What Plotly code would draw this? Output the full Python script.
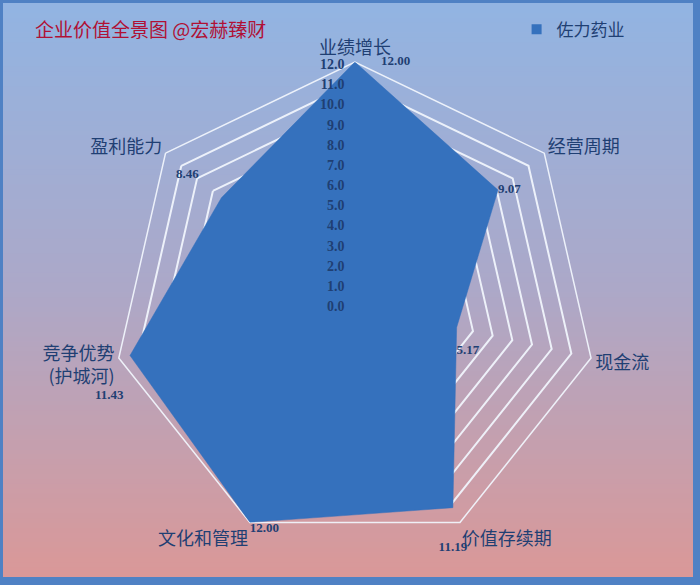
import plotly.graph_objects as go

# ---- data ----
categories = ["业绩增长", "经营周期", "现金流", "价值存续期", "文化和管理", "竞争优势<br>(护城河)", "盈利能力"]
values = [12.00, 9.07, 5.17, 11.19, 12.00, 11.43, 8.46]
series_name = "佐力药业"
title_text = "企业价值全景图 @宏赫臻财"
radial_ticks = [float(i) for i in range(0, 13)]

# label placement styles (per point)
label_positions = ["middle right", "middle right", "bottom right", "bottom center",
                   "bottom right", "bottom left", "top left"]
NB = "\u00a0"
label_pre = [NB * 8, "", NB + "<br>", NB + "<br>" + NB + "<br>", "", NB + "<br>" + NB + "<br>", ""]
label_post = ["", "", "", "", "", NB * 2, NB * 7 + "<br>" + NB]

W, H = 700, 585
DOMAIN_X = [0.161, 0.853]
DOMAIN_Y = [0.066, 0.894]
DARK_BLUE = "#1f3f73"
FILL = "#3571bd"

fig = go.Figure()

# main filled radar
fig.add_trace(go.Scatterpolar(
    r=values + values[:1],
    theta=categories + categories[:1],
    mode="lines+text",
    fill="toself",
    fillcolor=FILL,
    line=dict(color=FILL, width=0.5),
    text=[pre + f"{v:.2f}" + post for pre, v, post in zip(label_pre, values, label_post)] + [""],
    textposition=label_positions + ["middle center"],
    textfont=dict(family="Liberation Serif", size=13, color=DARK_BLUE, weight="bold"),
    name=series_name,
    subplot="polar",
    showlegend=False,
    hoverinfo="skip",
))

# legend entry (square marker)
fig.add_trace(go.Scatterpolar(
    r=[None], theta=[None], mode="markers",
    marker=dict(symbol="square", size=10, color=FILL),
    name=series_name, subplot="polar", showlegend=True, hoverinfo="skip",
))

# invisible trace on overlay polar so radial tick labels sit above the fill
fig.add_trace(go.Scatterpolar(
    r=values, theta=categories, mode="markers",
    marker=dict(opacity=0), subplot="polar2", showlegend=False, hoverinfo="skip",
))

# gradient background via stacked bands
def lerp(c1, c2, t):
    return tuple(round(a + (b - a) * t) for a, b in zip(c1, c2))

top_c = (146, 180, 226)
mid_c = (172, 168, 200)
bot_c = (218, 152, 152)
shapes = [dict(type="rect", xref="paper", yref="paper", x0=0, x1=1, y0=0, y1=1,
               fillcolor="#4f81c4", line=dict(width=0), layer="below")]
n = 117
x0p, x1p = 3 / W, 1 - 7 / W
y_top, y_bot = 1 - 3 / H, 8 / H
for i in range(n):
    t = i / (n - 1)
    c = lerp(top_c, mid_c, t * 2) if t < 0.5 else lerp(mid_c, bot_c, (t - 0.5) * 2)
    ya = y_top - (y_top - y_bot) * i / n
    shapes.append(dict(type="rect", xref="paper", yref="paper",
                       x0=x0p, x1=x1p, y0=y_bot, y1=ya,
                       fillcolor="rgb(%d,%d,%d)" % c, line=dict(width=0), layer="below"))

fig.update_layout(
    width=W, height=H,
    margin=dict(l=0, r=0, t=0, b=0),
    paper_bgcolor="rgba(0,0,0,0)",
    plot_bgcolor="rgba(0,0,0,0)",
    shapes=shapes,
    polar=dict(
        domain=dict(x=DOMAIN_X, y=DOMAIN_Y),
        bgcolor="rgba(0,0,0,0)",
        gridshape="linear",
        radialaxis=dict(
            range=[0, 12], tickvals=radial_ticks, showticklabels=False,
            showline=False, ticks="", gridcolor="rgba(240,244,252,0.95)", gridwidth=1.5,
            layer="below traces", angle=90,
        ),
        angularaxis=dict(
            direction="clockwise", rotation=90, showgrid=False,
            showline=True, linecolor="rgba(240,244,252,0.95)", linewidth=1.5,
            ticks="", layer="below traces",
            tickfont=dict(family="Noto Sans CJK SC", size=18, color=DARK_BLUE),
        ),
    ),
    polar2=dict(
        domain=dict(x=DOMAIN_X, y=DOMAIN_Y),
        bgcolor="rgba(0,0,0,0)",
        gridshape="linear",
        radialaxis=dict(
            range=[0, 12], tickvals=radial_ticks, tickformat=".1f",
            showgrid=False, showline=False, ticks="", angle=90, side="counterclockwise",
            tickfont=dict(family="Liberation Serif", size=14, color=DARK_BLUE, weight="bold"),
        ),
        angularaxis=dict(
            direction="clockwise", rotation=90, showgrid=False, showline=False,
            showticklabels=False, ticks="",
        ),
    ),
    legend=dict(
        x=0.738, y=0.98, xanchor="left", yanchor="top",
        bgcolor="rgba(0,0,0,0)",
        font=dict(family="Noto Sans CJK SC", size=17, color=DARK_BLUE),
    ),
    annotations=[dict(
        text=title_text, xref="paper", yref="paper", x=33 / W, y=1 - 28 / H,
        xanchor="left", yanchor="middle", showarrow=False,
        font=dict(family="Noto Sans CJK SC", size=19, color="#b01035"),
    )],
)

fig.write_html("out.html", config={"displayModeBar": False},
               post_script="document.body.style.margin='0';")
